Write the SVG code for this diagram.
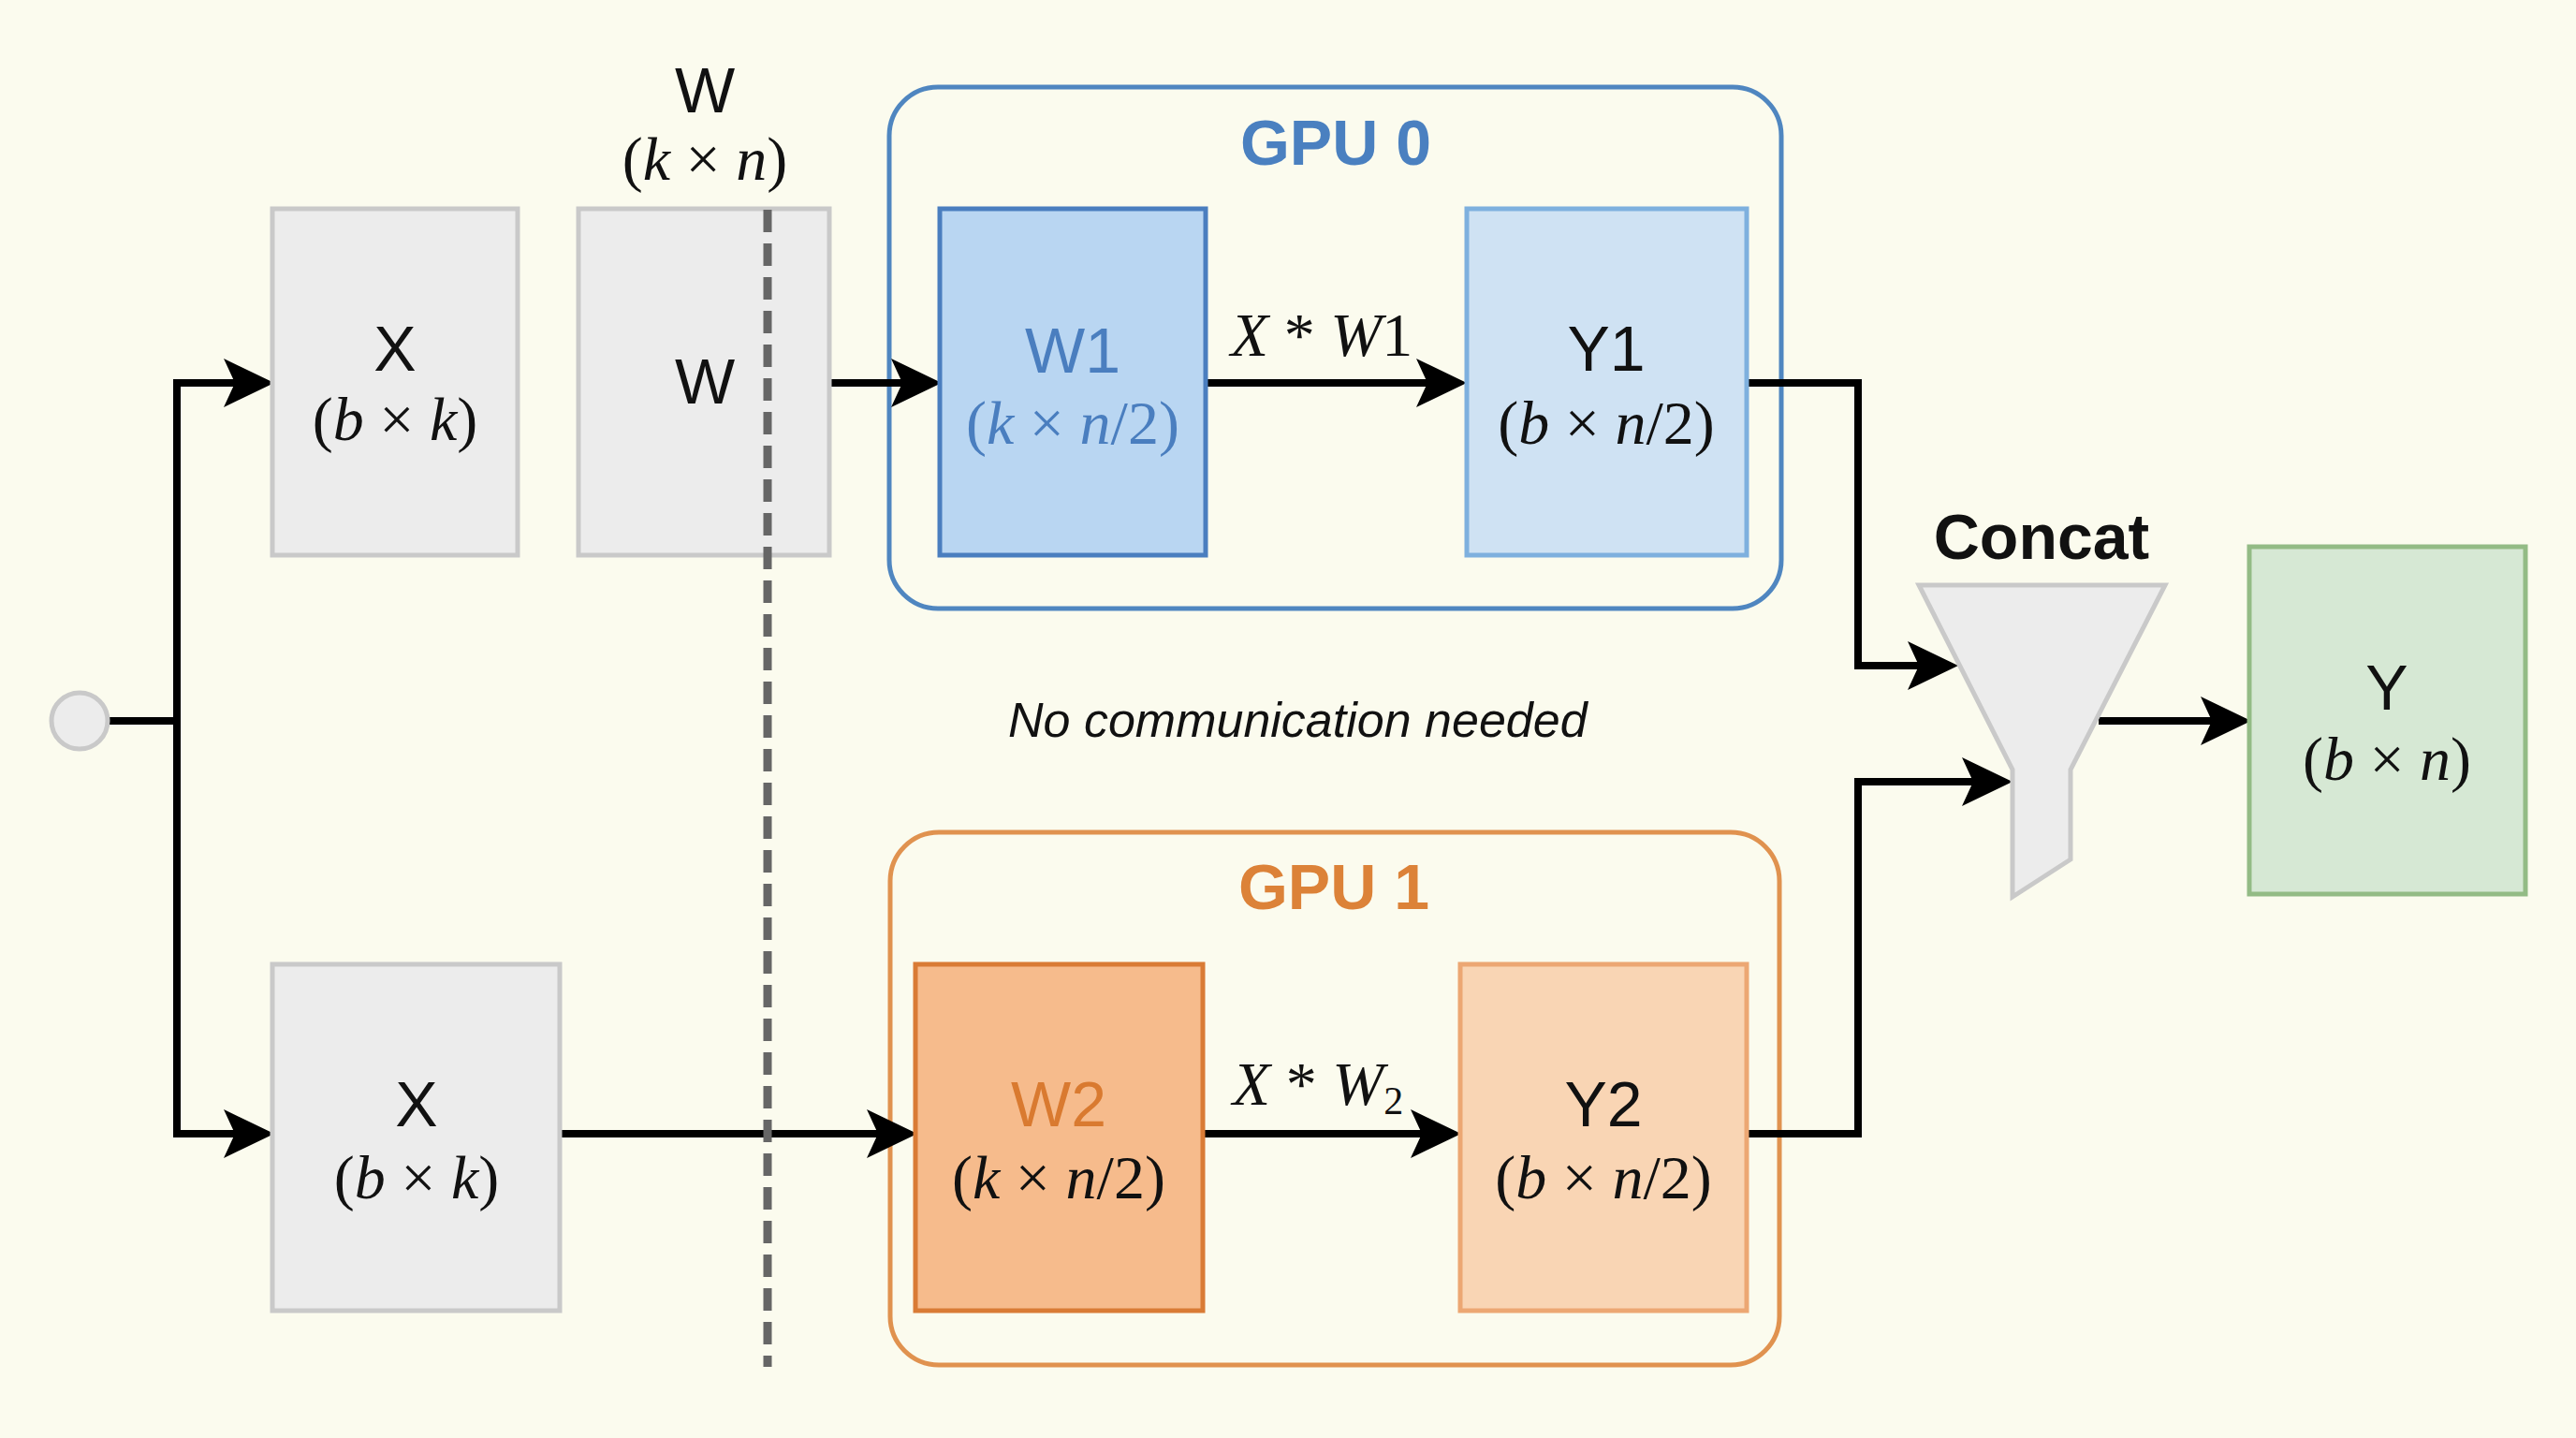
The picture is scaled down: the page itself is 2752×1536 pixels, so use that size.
<svg xmlns="http://www.w3.org/2000/svg" width="2752" height="1536" viewBox="0 0 2752 1536">
<style>
.bg{fill:#fbfbee}
.gray{fill:#ececec;stroke:#c9c9c9;stroke-width:5}
.lbl{font-family:"Liberation Sans",Arial,sans-serif;font-size:68px;fill:#111;text-anchor:middle}
.math{font-family:"Liberation Serif","Times New Roman",serif;font-size:66px;fill:#111;text-anchor:middle}
.math .v{font-style:italic}
.title{font-family:"Liberation Sans",Arial,sans-serif;font-size:68px;font-weight:bold;text-anchor:middle}
.conn{fill:none;stroke:#000;stroke-width:8}
</style>
<defs>
<marker id="ah" markerUnits="userSpaceOnUse" markerWidth="56" markerHeight="54" refX="12" refY="26" orient="auto" viewBox="0 0 56 54">
<path d="M0,0 L54,26 L0,52 L12,26 z" fill="#000"/>
</marker>
</defs>
<rect class="bg" x="0" y="0" width="2752" height="1536"/>

<g id="gpu0">
<rect x="950" y="93" width="953" height="557" rx="52" fill="none" stroke="#4f86c0" stroke-width="5"/>
<text class="title" x="1427" y="176" fill="#4a80c0">GPU 0</text>
</g>
<g id="gpu1">
<rect x="951" y="889" width="950" height="569" rx="52" fill="none" stroke="#e0924f" stroke-width="5"/>
<text class="title" x="1425" y="971" fill="#dc8238">GPU 1</text>
</g>

<g id="connectors">
<path class="conn" d="M116,770 H189"/>
<path class="conn" d="M189,770 V409 H251" marker-end="url(#ah)"/>
<path class="conn" d="M189,770 V1211 H251" marker-end="url(#ah)"/>
<path class="conn" d="M886,409 H964" marker-end="url(#ah)"/>
<path class="conn" d="M1288,409 H1525" marker-end="url(#ah)"/>
<path class="conn" d="M1866,409 H1985 V711 H2050" marker-end="url(#ah)"/>
<path class="conn" d="M598,1211 H938" marker-end="url(#ah)"/>
<path class="conn" d="M1285,1211 H1519" marker-end="url(#ah)"/>
<path class="conn" d="M1866,1211 H1985 V835 H2108" marker-end="url(#ah)"/>
<path class="conn" d="M2242,770 H2363" marker-end="url(#ah)"/>
</g>

<g id="start">
<circle cx="85" cy="770" r="30" fill="#ececec" stroke="#c9c9c9" stroke-width="5"/>
</g>

<g id="x-top">
<rect class="gray" x="291" y="223" width="262" height="370"/>
<text class="lbl" x="422" y="396">X</text>
<text class="math" x="422" y="470">(<tspan class="v">b</tspan> × <tspan class="v">k</tspan>)</text>
</g>

<g id="w-full">
<text class="lbl" x="753" y="120">W</text>
<text class="math" x="753" y="192">(<tspan class="v">k</tspan> × <tspan class="v">n</tspan>)</text>
<rect class="gray" x="618" y="223" width="268" height="370"/>
<text class="lbl" x="753" y="431">W</text>
</g>

<g id="w1">
<rect x="1004" y="223" width="284" height="370" fill="#b9d6f2" stroke="#4a7ebf" stroke-width="5"/>
<text class="lbl" x="1146" y="398" style="fill:#4a7ebf">W1</text>
<text class="math" x="1146" y="474" style="fill:#4a7ebf">(<tspan class="v">k</tspan> × <tspan class="v">n</tspan>/2)</text>
</g>
<text class="math" x="1412" y="380" font-size="60"><tspan class="v">X</tspan> * <tspan class="v">W</tspan>1</text>

<g id="y1">
<rect x="1567" y="223" width="299" height="370" fill="#cfe2f3" stroke="#7eb0de" stroke-width="5"/>
<text class="lbl" x="1716" y="396">Y1</text>
<text class="math" x="1716" y="474">(<tspan class="v">b</tspan> × <tspan class="v">n</tspan>/2)</text>
</g>

<g id="x-bottom">
<rect class="gray" x="291" y="1030" width="307" height="370"/>
<text class="lbl" x="445" y="1203">X</text>
<text class="math" x="445" y="1280">(<tspan class="v">b</tspan> × <tspan class="v">k</tspan>)</text>
</g>

<g id="w2">
<rect x="978" y="1030" width="307" height="370" fill="#f6bb8c" stroke="#d97b35" stroke-width="5"/>
<text class="lbl" x="1131" y="1203" style="fill:#d97a30">W2</text>
<text class="math" x="1131" y="1280">(<tspan class="v">k</tspan> × <tspan class="v">n</tspan>/2)</text>
</g>
<text class="math" x="1408" y="1180" font-size="60"><tspan class="v">X</tspan> * <tspan class="v">W</tspan><tspan font-size="42" dy="10">2</tspan></text>

<g id="y2">
<rect x="1560" y="1030" width="306" height="370" fill="#f9d5b4" stroke="#eca773" stroke-width="5"/>
<text class="lbl" x="1713" y="1203">Y2</text>
<text class="math" x="1713" y="1280">(<tspan class="v">b</tspan> × <tspan class="v">n</tspan>/2)</text>
</g>

<g id="concat">
<text class="title" x="2181" y="597" fill="#111">Concat</text>
<polygon points="2050,625 2313,625 2212,822 2212,918 2150,958 2150,822" fill="#ececec" stroke="#c9c9c9" stroke-width="5" stroke-linejoin="miter"/>
</g>

<g id="y-out">
<rect x="2403" y="584" width="295" height="371" fill="#d6e8d4" stroke="#93bb85" stroke-width="5"/>
<text class="lbl" x="2550" y="758">Y</text>
<text class="math" x="2550" y="833">(<tspan class="v">b</tspan> × <tspan class="v">n</tspan>)</text>
</g>

<g id="divider">
<line x1="820" y1="224" x2="820" y2="1460" stroke="#666" stroke-width="9" stroke-dasharray="24,12"/>
</g>

<text x="1077" y="787" font-family="'Liberation Sans',Arial,sans-serif" font-size="52" font-style="italic" fill="#111">No communication needed</text>
</svg>
